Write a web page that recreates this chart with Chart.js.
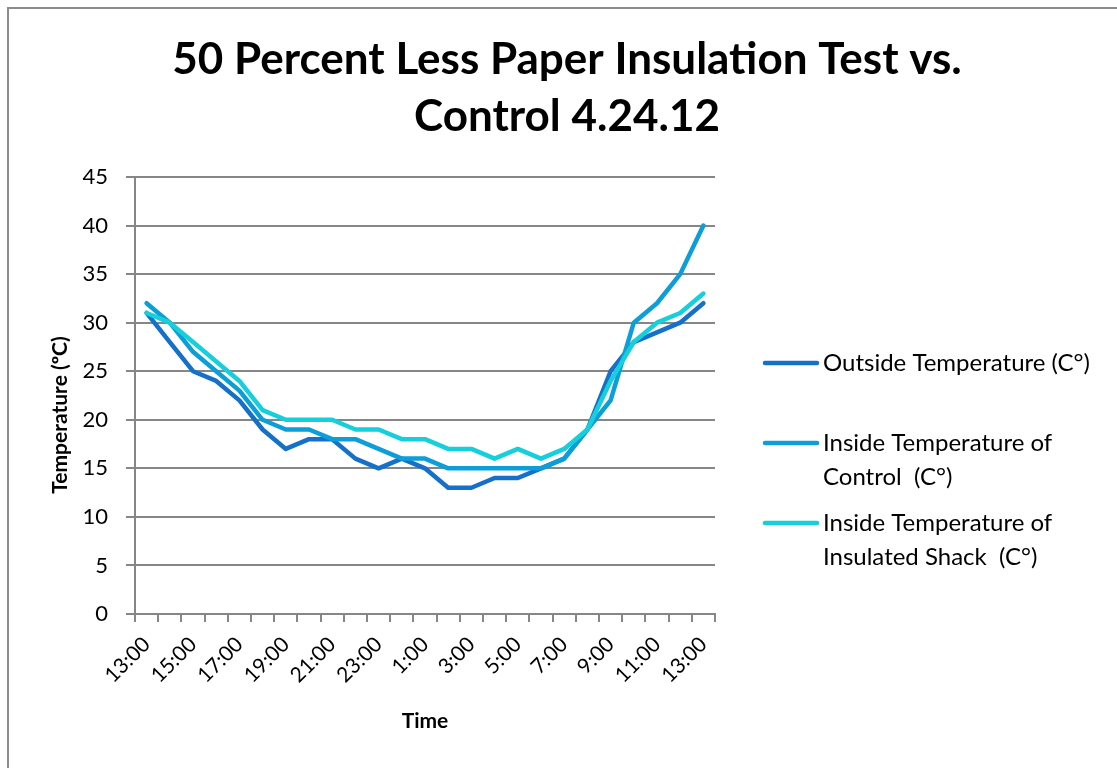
<!DOCTYPE html>
<html>
<head>
<meta charset="utf-8">
<title>50 Percent Less Paper Insulation Test vs. Control 4.24.12</title>
<script src="https://cdn.jsdelivr.net/npm/chart.js@4.4.1/dist/chart.umd.min.js"></script>
<style>
  html, body { margin: 0; padding: 0; background: #fff; }
  #wrap { width: 1117px; height: 768px; }
</style>
</head>
<body>
<div id="wrap"><canvas id="chart" width="1117" height="768"></canvas></div>
<script>
// Hourly readings, 13:00 on 4.24.12 through 13:00 the next day
const timeLabels = ['13:00', '14:00', '15:00', '16:00', '17:00', '18:00', '19:00', '20:00',
  '21:00', '22:00', '23:00', '0:00', '1:00', '2:00', '3:00', '4:00', '5:00', '6:00',
  '7:00', '8:00', '9:00', '10:00', '11:00', '12:00', '13:00'];
const outsideTemp = [31, 28, 25, 24, 22, 19, 17, 18, 18, 16, 15, 16, 15, 13, 13, 14, 14, 15, 16, 19, 25, 28, 29, 30, 32];
const controlTemp = [32, 30, 27, 25, 23, 20, 19, 19, 18, 18, 17, 16, 16, 15, 15, 15, 15, 15, 16, 19, 22, 30, 32, 35, 40];
const insulatedTemp = [31, 30, 28, 26, 24, 21, 20, 20, 20, 19, 19, 18, 18, 17, 17, 16, 17, 16, 17, 19, 24, 28, 30, 31, 33];
const yTicks = [0, 5, 10, 15, 20, 25, 30, 35, 40, 45];

const titleLines = ['50 Percent Less Paper Insulation Test vs.', 'Control 4.24.12'];
const yTitle = 'Temperature (ºC)';
const legendLines = [
  ['Outside Temperature (C°)'],
  ['Inside Temperature of', 'Control  (C°)'],
  ['Inside Temperature of', 'Insulated Shack  (C°)']
];

const FONT = 'Lato, "Open Sans", sans-serif';
const GRID = '#868686';

// Title, frame, y title and the wrapped legend (Chart.js legend can't wrap lines)
const decorPlugin = {
  id: 'decor',
  beforeDraw(chart) {
    const ctx = chart.ctx;
    ctx.save();
    ctx.fillStyle = '#fff';
    ctx.fillRect(0, 0, chart.width, chart.height);
    ctx.strokeStyle = '#8c8c8c';
    ctx.lineWidth = 2;
    ctx.strokeRect(8, 8, chart.width + 20, chart.height + 20);
    ctx.restore();
  },
  afterDraw(chart) {
    const ctx = chart.ctx;
    ctx.save();
    // title
    ctx.fillStyle = '#000';
    ctx.textAlign = 'center';
    ctx.textBaseline = 'middle';
    ctx.font = 'bold 44px ' + FONT;
    titleLines.forEach(function(line, i) {
      ctx.fillText(line, 567, 60 + i * 57);
    });
    // y axis title
    ctx.save();
    ctx.translate(60, 415);
    ctx.rotate(-Math.PI / 2);
    ctx.font = 'bold 21px ' + FONT;
    ctx.fillText(yTitle, 0, 0);
    ctx.restore();
    // legend
    const rows = [363, 443, 523];
    ctx.textAlign = 'left';
    ctx.font = '24px ' + FONT;
    chart.data.datasets.forEach(function(ds, i) {
      const y = rows[i];
      ctx.strokeStyle = ds.borderColor;
      ctx.lineWidth = 4.5;
      ctx.lineCap = 'round';
      ctx.beginPath();
      ctx.moveTo(765, y);
      ctx.lineTo(817, y);
      ctx.stroke();
      ctx.fillStyle = '#000';
      legendLines[i].forEach(function(txt, j) {
        ctx.fillText(txt, 823, y + j * 34);
      });
    });
    ctx.restore();
  }
};

const ctx = document.getElementById('chart').getContext('2d');
new Chart(ctx, {
  type: 'line',
  data: {
    labels: timeLabels,
    datasets: [
      { label: 'Outside Temperature (C°)', data: outsideTemp, borderColor: '#1470c8', order: 3 },
      { label: 'Inside Temperature of Control  (C°)', data: controlTemp, borderColor: '#0c9ed9', order: 2 },
      { label: 'Inside Temperature of Insulated Shack  (C°)', data: insulatedTemp, borderColor: '#15d0dc', order: 1 }
    ]
  },
  options: {
    responsive: false,
    animation: false,
    layout: { padding: { left: 40, right: 402, top: 177, bottom: 30 } },
    elements: {
      line: { borderWidth: 4.5, tension: 0, borderJoinStyle: 'round', borderCapStyle: 'round' },
      point: { radius: 0 }
    },
    plugins: {
      legend: { display: false },
      tooltip: { enabled: false }
    },
    scales: {
      x: {
        offset: true,
        afterFit: function(scale) { scale.height = 768 - 614 - 30; },
        grid: { offset: true, drawOnChartArea: false, drawTicks: true, tickLength: 8, color: GRID, lineWidth: 2 },
        border: { color: GRID, width: 2 },
        ticks: {
          autoSkip: false,
          maxRotation: 45,
          minRotation: 45,
          padding: 10,
          color: '#000',
          font: { family: FONT, size: 21 },
          callback: function(val, idx) { return idx % 2 === 0 ? timeLabels[idx] : ''; }
        },
        title: {
          display: true,
          text: 'Time',
          color: '#000',
          font: { family: FONT, size: 21, weight: 'bold' },
          padding: { top: 0, bottom: 4 }
        }
      },
      y: {
        min: 0,
        max: 45,
        afterFit: function(scale) { scale.width = 135 - 40; },
        afterBuildTicks: function(scale) { scale.ticks = yTicks.map(function(v) { return { value: v }; }); },
        grid: { color: GRID, lineWidth: 2, tickLength: 9 },
        border: { color: GRID, width: 2 },
        ticks: {
          padding: 18,
          color: '#000',
          font: { family: FONT, size: 22 }
        }
      }
    }
  },
  plugins: [decorPlugin]
});
</script>
</body>
</html>
